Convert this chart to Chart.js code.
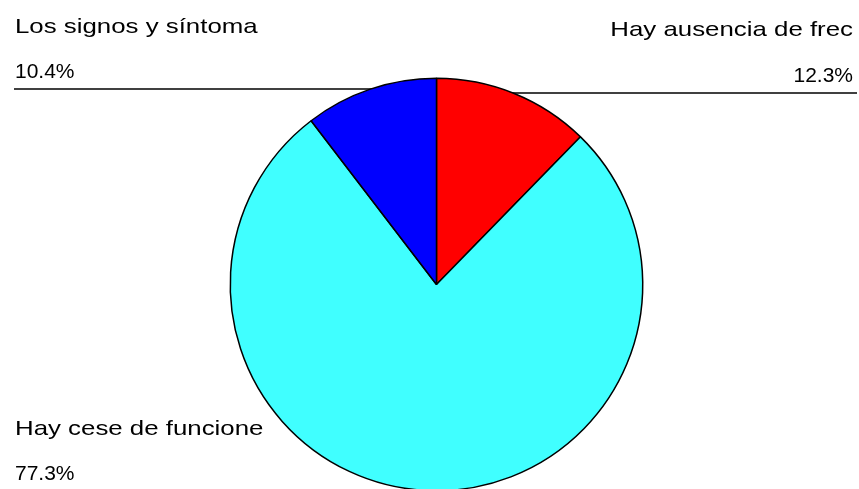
<!DOCTYPE html>
<html lang="en">
<head>
    <meta charset="UTF-8">
    <title>Pie</title>
    <style>
        html, body { margin: 0; padding: 0; background: #fff; overflow: hidden; }
        .chart-container { width: 859px; height: 495px; position: relative; }
    </style>
    <script src="https://cdn.jsdelivr.net/npm/chart.js@4.4.1/dist/chart.umd.min.js"></script>
</head>
<body>
    <div class="chart-container">
        <canvas id="pieChart"></canvas>
    </div>
    <script>
        const categories = ['Hay ausencia de frec', 'Hay cese de funcione', 'Los signos y síntoma'];
        const percents = [12.3, 77.3, 10.4];
        const sliceColors = ['#FF0000', '#40FFFF', '#0000FF'];

        // where each label sits: name baseline, percent baseline, leader line y (null = none)
        const labelSpots = [
            { x: 853, align: 'right', nameY: 36, pctY: 81.5, lineY: 93 },
            { x: 15, align: 'left', nameY: 435, pctY: 480, lineY: null },
            { x: 15, align: 'left', nameY: 32.5, pctY: 78, lineY: 89 }
        ];

        // names in the original are drawn horizontally stretched
        function drawStretched(ctx, text, x, y, align, sx) {
            let w = ctx.measureText(text).width * sx;
            let startX = align === 'right' ? x - w : x;
            ctx.save();
            ctx.translate(startX, y);
            ctx.scale(sx, 1);
            ctx.textAlign = 'left';
            ctx.fillText(text, 0, 0);
            ctx.restore();
        }

        const leaderLines = {
            id: 'leaderLines',
            beforeDatasetsDraw(chart) {
                const ctx = chart.ctx;
                const arc = chart.getDatasetMeta(0).data[0];
                ctx.save();
                ctx.strokeStyle = '#000';
                ctx.lineWidth = 1.5;
                labelSpots.forEach(s => {
                    if (s.lineY === null) return;
                    ctx.beginPath();
                    if (s.align === 'right') {
                        ctx.moveTo(arc.x, s.lineY);
                        ctx.lineTo(s.x + 4, s.lineY);
                    } else {
                        ctx.moveTo(s.x - 1, s.lineY);
                        ctx.lineTo(arc.x, s.lineY);
                    }
                    ctx.stroke();
                });
                ctx.restore();
            },
            afterDatasetsDraw(chart) {
                const ctx = chart.ctx;
                ctx.save();
                ctx.fillStyle = '#000';
                ctx.font = '21px "Liberation Sans", Arial, sans-serif';
                ctx.textBaseline = 'alphabetic';
                categories.forEach((name, i) => {
                    const s = labelSpots[i];
                    drawStretched(ctx, name, s.x, s.nameY, s.align, 1.23);
                    ctx.textAlign = s.align;
                    ctx.fillText(percents[i].toFixed(1) + '%', s.x, s.pctY);
                });
                ctx.restore();
            }
        };

        new Chart(document.getElementById('pieChart'), {
            type: 'pie',
            data: {
                labels: categories,
                datasets: [{
                    data: percents,
                    backgroundColor: sliceColors,
                    borderColor: '#000',
                    borderWidth: 1.5
                }]
            },
            options: {
                responsive: true,
                maintainAspectRatio: false,
                animation: false,
                layout: {
                    padding: { left: 14, right: 0, top: 77.5, bottom: 3.5 }
                },
                plugins: {
                    legend: { display: false },
                    tooltip: { enabled: false }
                }
            },
            plugins: [leaderLines]
        });
    </script>
</body>
</html>
